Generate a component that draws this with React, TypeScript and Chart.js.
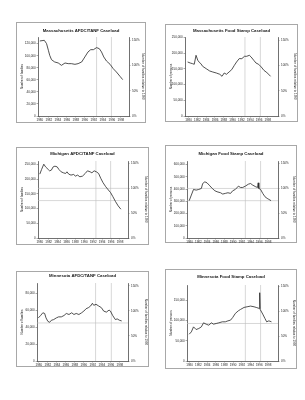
import React, { useEffect, useRef } from 'react';
import { Chart, registerables } from 'chart.js';

Chart.register(...registerables);

// ---------- data ----------
const yearTicks = [1980, 1982, 1984, 1986, 1988, 1990, 1992, 1994, 1996, 1998];

const maAfdcYears = [1980.0, 1981.0, 1981.5, 1981.9, 1982.2, 1982.6, 1983.3, 1984.1, 1984.8, 1985.6, 1986.3, 1987.0, 1987.8, 1988.5, 1989.3, 1990.0, 1990.7, 1991.3, 1991.9, 1992.6, 1993.2, 1993.7, 1994.2, 1994.8, 1995.6, 1996.3, 1997.0, 1997.8, 1998.4];
const maAfdcFamilies = [124400, 125500, 120000, 109000, 100600, 93400, 89600, 87900, 84000, 87900, 86800, 86800, 85700, 86800, 89600, 97900, 106200, 110000, 110000, 113400, 111700, 106200, 97900, 91200, 85700, 78500, 73000, 65800, 60300];

const maFsYears = [1979.8, 1980.4, 1980.9, 1981.3, 1981.7, 1982.1, 1982.5, 1982.8, 1983.2, 1984.0, 1984.8, 1985.5, 1986.3, 1987.1, 1987.6, 1988.1, 1988.6, 1989.2, 1989.8, 1990.4, 1990.9, 1991.5, 1992.1, 1992.7, 1993.2, 1993.8, 1994.2, 1994.8, 1995.3, 1995.9, 1996.5, 1997.1, 1997.6, 1998.2, 1998.6];
const maFsPersons = [172300, 169000, 167000, 165000, 193600, 177700, 170200, 167000, 158500, 151000, 143600, 140400, 137200, 133000, 126600, 137200, 133000, 140400, 147900, 161700, 172300, 183000, 183000, 190400, 190400, 193600, 188300, 177700, 169100, 164900, 156400, 145700, 140400, 133000, 126600];

const miAfdcYears = [1980.0, 1980.4, 1980.9, 1981.3, 1981.9, 1982.2, 1982.6, 1983.0, 1983.4, 1983.9, 1984.3, 1984.8, 1985.3, 1985.8, 1986.1, 1986.5, 1987.0, 1987.6, 1988.0, 1988.5, 1989.0, 1989.6, 1990.2, 1990.7, 1991.3, 1991.7, 1992.2, 1992.7, 1993.2, 1993.7, 1994.2, 1994.8, 1995.4, 1995.9, 1996.4, 1997.0, 1997.6, 1998.2];
const miAfdcFamilies = [217300, 233100, 251100, 242100, 233100, 228600, 230900, 242100, 244400, 242100, 233100, 225200, 221800, 219600, 225200, 217300, 214000, 216200, 210600, 214000, 208300, 210600, 219600, 228600, 225200, 221800, 228600, 225200, 219600, 202700, 188100, 174500, 163300, 154300, 140800, 123900, 109200, 98000];

const miFsYears = [1979.9, 1980.4, 1980.9, 1981.5, 1982.1, 1982.7, 1983.0, 1983.5, 1984.0, 1984.5, 1985.2, 1985.8, 1986.3, 1987.1, 1987.6, 1988.2, 1988.8, 1989.4, 1989.9, 1990.5, 1991.2, 1991.7, 1992.2, 1992.8, 1993.5, 1994.0, 1994.5, 1995.2, 1995.6, 1995.75, 1995.9, 1996.3, 1996.8, 1997.3, 1997.8, 1998.2, 1998.7];
const miFsPersons = [305400, 351400, 397300, 391900, 397300, 405400, 445900, 459500, 451400, 432400, 405400, 386500, 378400, 370300, 359500, 364900, 370300, 364900, 386500, 397300, 424300, 413500, 413500, 424300, 440500, 445900, 432400, 418900, 413500, 451400, 405400, 397300, 364900, 337800, 324300, 316200, 305400];

const mnAfdcYears = [1979.9, 1980.4, 1980.9, 1981.3, 1981.6, 1982.0, 1982.4, 1982.8, 1983.3, 1983.9, 1984.4, 1985.0, 1985.6, 1986.1, 1986.7, 1987.3, 1987.8, 1988.3, 1988.9, 1989.5, 1990.0, 1990.5, 1991.0, 1991.5, 1991.9, 1992.2, 1992.7, 1993.3, 1993.9, 1994.4, 1995.0, 1995.6, 1995.9, 1996.4, 1997.0, 1997.4, 1997.9, 1998.4];
const mnAfdcFamilies = [50800, 53600, 56800, 56000, 50800, 46800, 45600, 48000, 48800, 50800, 52000, 52000, 53600, 56000, 54800, 56800, 54800, 56000, 54800, 56800, 58800, 61600, 62800, 64800, 68000, 65600, 66800, 64800, 62800, 58800, 57600, 60000, 58800, 53600, 48800, 49600, 48000, 47200];

const mnFsYears = [1979.9, 1980.4, 1980.9, 1981.5, 1982.1, 1982.7, 1983.2, 1983.8, 1984.4, 1985.0, 1985.5, 1986.1, 1986.7, 1987.5, 1988.2, 1988.8, 1989.4, 1989.9, 1990.5, 1991.2, 1991.7, 1992.5, 1993.2, 1994.0, 1994.8, 1995.3, 1996.0, 1996.1, 1996.2, 1996.8, 1997.3, 1997.7, 1998.2, 1998.8];
const mnFsPersons = [65900, 71700, 84000, 77400, 79900, 84000, 93900, 90600, 88100, 93900, 90600, 92300, 93900, 96400, 96400, 98800, 100500, 107100, 117000, 123600, 126900, 131800, 133400, 135100, 133400, 131800, 129300, 168000, 126900, 115300, 104600, 96400, 98800, 96400];

const afdcMarkerYears = [1992.6, 1995.9];
const fsMarkerYears = [1992.8, 1996.3];
const miAfdcLevels = [168900, 127300];
const miFsLevels = [405400, 305400];
const mnAfdcLevels = [44800];
const mnFsLevels = [92300];

const percentTicks = [0, 50, 100, 150];

// ---------- layout ----------
type Spec = {
  title: string;
  years: number[];
  values: number[];
  leftMax: number;
  leftStep: number;
  rightMax: number;
  xMin: number;
  xMax: number;
  vLines: number[];
  hLines: number[];
  leftTitle: string;
  rightTitle: string;
  box: { x: number; y: number; w: number; h: number };
  plot: { l: number; r: number; t: number; b: number };
  titleY: number;
};

const FAM = 'Liberation Sans, Arial, sans-serif';
const rightTitleText = 'Number of families relative to 1990';

const specs: Spec[] = [
  {
    title: 'Massachusetts AFDC/TANF Caseload', years: maAfdcYears, values: maAfdcFamilies,
    leftMax: 131000, leftStep: 20000, rightMax: 156.6, xMin: 1979.6, xMax: 1999.8,
    vLines: afdcMarkerYears, hLines: [], leftTitle: 'Number of families', rightTitle: rightTitleText,
    box: { x: 16, y: 22, w: 130, h: 101 }, plot: { l: 22, r: 113, t: 15, b: 94 }, titleY: 9,
  },
  {
    title: 'Massachusetts Food Stamp Caseload', years: maFsYears, values: maFsPersons,
    leftMax: 252000, leftStep: 50000, rightMax: 156.6, xMin: 1979.2, xMax: 2000.3,
    vLines: fsMarkerYears, hLines: [], leftTitle: 'Number of persons', rightTitle: rightTitleText,
    box: { x: 165, y: 24, w: 133, h: 98 }, plot: { l: 20, r: 113, t: 13, b: 92 }, titleY: 7,
  },
  {
    title: 'Michigan AFDC/TANF Caseload', years: miAfdcYears, values: miAfdcFamilies,
    leftMax: 262000, leftStep: 50000, rightMax: 155.3, xMin: 1979.6, xMax: 1999.8,
    vLines: afdcMarkerYears, hLines: miAfdcLevels, leftTitle: 'Number of families', rightTitle: rightTitleText,
    box: { x: 16, y: 147, w: 133, h: 98 }, plot: { l: 22, r: 112, t: 14, b: 91 }, titleY: 7,
  },
  {
    title: 'Michigan Food Stamp Caseload', years: miFsYears, values: miFsPersons,
    leftMax: 630000, leftStep: 100000, rightMax: 155.3, xMin: 1979.4, xMax: 2000.3,
    vLines: fsMarkerYears, hLines: miFsLevels, leftTitle: 'Number of persons', rightTitle: rightTitleText,
    box: { x: 165, y: 145, w: 132, h: 98 }, plot: { l: 22, r: 113, t: 16, b: 93 }, titleY: 9,
  },
  {
    title: 'Minnesota AFDC/TANF Caseload', years: mnAfdcYears, values: mnAfdcFamilies,
    leftMax: 91900, leftStep: 20000, rightMax: 155.4, xMin: 1979.6, xMax: 1999.8,
    vLines: [1992.6, 1996.1], hLines: mnAfdcLevels, leftTitle: 'Number of families', rightTitle: rightTitleText,
    box: { x: 16, y: 271, w: 133, h: 96 }, plot: { l: 21, r: 112, t: 12, b: 90 }, titleY: 5,
  },
  {
    title: 'Minnesota Food Stamp Caseload', years: mnFsYears, values: mnFsPersons,
    leftMax: 187000, leftStep: 50000, rightMax: 152, xMin: 1979.4, xMax: 2000.3,
    vLines: fsMarkerYears, hLines: mnFsLevels, leftTitle: 'Number of persons', rightTitle: rightTitleText,
    box: { x: 165, y: 269, w: 132, h: 100 }, plot: { l: 22, r: 113, t: 16, b: 92 }, titleY: 8,
  },
];

function MiniChart({ spec }: { spec: Spec }) {
  const ref = useRef<HTMLCanvasElement>(null);
  useEffect(() => {
    const canvas = ref.current;
    if (!canvas) return;
    const { box, plot } = spec;
    const titleSize = 4.3;
    const titleLH = titleSize * 1.2;
    const titleTop = spec.titleY - titleLH / 2;
    const titleBottom = Math.max(0, plot.t - titleTop - titleLH);

    const framePlugin = {
      id: 'frame',
      beforeDraw(chart: any) {
        const ctx = chart.ctx;
        ctx.save();
        ctx.fillStyle = '#ffffff';
        ctx.fillRect(0, 0, chart.width, chart.height);
        ctx.strokeStyle = '#a8a8a8';
        ctx.lineWidth = 1;
        ctx.strokeRect(0.5, 0.5, chart.width - 1, chart.height - 1);
        ctx.restore();
      },
    };
    const refPlugin = {
      id: 'refLines',
      beforeDatasetsDraw(chart: any) {
        const { ctx, chartArea, scales } = chart;
        ctx.save();
        ctx.strokeStyle = '#bdbdbd';
        ctx.lineWidth = 0.6;
        for (const yr of spec.vLines) {
          const px = scales.x.getPixelForValue(yr);
          ctx.beginPath();
          ctx.moveTo(px, chartArea.top);
          ctx.lineTo(px, chartArea.bottom);
          ctx.stroke();
        }
        for (const v of spec.hLines) {
          const py = scales.y.getPixelForValue(v);
          ctx.beginPath();
          ctx.moveTo(chartArea.left, py);
          ctx.lineTo(chartArea.right, py);
          ctx.stroke();
        }
        ctx.restore();
      },
    };

    const tickFont = { family: FAM, size: 3 };
    const gridCfg = { drawOnChartArea: false, drawTicks: true, tickLength: 1.5, color: '#555', lineWidth: 0.5 };
    const borderCfg = { display: true, color: '#333', width: 0.7 };

    const chart = new Chart(canvas, {
      type: 'line',
      data: {
        datasets: [
          {
            data: spec.years.map((yr, i) => ({ x: yr, y: spec.values[i] })),
            borderColor: '#262626',
            borderWidth: 0.8,
            pointRadius: 0,
            tension: 0,
            fill: false,
            yAxisID: 'y',
          },
        ],
      },
      options: {
        responsive: false,
        animation: false,
        devicePixelRatio: 1,
        layout: { padding: 0 },
        plugins: {
          legend: { display: false },
          tooltip: { enabled: false },
          title: {
            display: true,
            text: spec.title,
            color: '#151515',
            font: { family: FAM, size: titleSize, weight: 'bold', lineHeight: 1.2 },
            padding: { top: titleTop, bottom: titleBottom },
          },
        },
        scales: {
          x: {
            type: 'linear',
            min: spec.xMin,
            max: spec.xMax,
            afterBuildTicks: (s: any) => {
              s.ticks = yearTicks.map((v) => ({ value: v }));
            },
            afterFit: (s: any) => {
              s.height = box.h - plot.b;
            },
            ticks: {
              autoSkip: false,
              maxRotation: 0,
              minRotation: 0,
              padding: 0.5,
              font: tickFont,
              color: '#222',
              callback: (v: any) => String(v),
            },
            grid: gridCfg,
            border: borderCfg,
          },
          y: {
            type: 'linear',
            position: 'left',
            min: 0,
            max: spec.leftMax,
            afterBuildTicks: (s: any) => {
              const out: any[] = [];
              for (let v = 0; v <= spec.leftMax; v += spec.leftStep) out.push({ value: v });
              s.ticks = out;
            },
            afterFit: (s: any) => {
              s.width = plot.l;
            },
            ticks: {
              padding: 0.8,
              font: tickFont,
              color: '#222',
              callback: (v: any) => Number(v).toLocaleString('en-US'),
            },
            title: {
              display: true,
              text: spec.leftTitle,
              color: '#222',
              font: { family: FAM, size: 3, lineHeight: 1.2 },
              padding: { top: 4.2, bottom: 0 },
            },
            grid: gridCfg,
            border: borderCfg,
          },
          y2: {
            type: 'linear',
            position: 'right',
            min: 0,
            max: spec.rightMax,
            afterBuildTicks: (s: any) => {
              s.ticks = percentTicks.map((v) => ({ value: v }));
            },
            afterFit: (s: any) => {
              s.width = box.w - plot.r;
            },
            ticks: {
              padding: 1.5,
              font: tickFont,
              color: '#222',
              callback: (v: any) => `${v}%`,
            },
            title: {
              display: true,
              text: spec.rightTitle,
              color: '#222',
              font: { family: FAM, size: 3, lineHeight: 1.2 },
              padding: { top: 1.2, bottom: 0 },
            },
            grid: gridCfg,
            border: borderCfg,
          },
        },
      } as any,
      plugins: [framePlugin, refPlugin],
    });
    return () => chart.destroy();
  }, [spec]);

  return (
    <canvas
      ref={ref}
      width={spec.box.w}
      height={spec.box.h}
      style={{ position: 'absolute', left: spec.box.x, top: spec.box.y, width: spec.box.w, height: spec.box.h }}
    />
  );
}

export default function App() {
  return (
    <div style={{ position: 'fixed', left: 0, top: 0, width: 305, height: 400, background: '#ffffff', overflow: 'hidden' }}>
      {specs.map((s) => (
        <MiniChart key={s.title} spec={s} />
      ))}
    </div>
  );
}
